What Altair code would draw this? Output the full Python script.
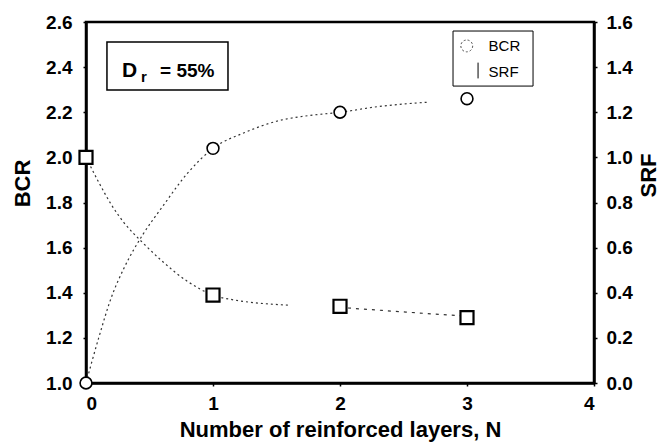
import altair as alt
import pandas as pd

# Measured points
layers_n = [0, 1, 2, 3]
bcr_vals = [1.0, 2.04, 2.20, 2.26]
srf_vals = [1.0, 0.39, 0.34, 0.29]

# Fitted trend curves
bcr_fit_n = [0, 0.1, 0.2, 0.3, 0.45, 0.6, 0.8, 1.0, 1.25, 1.5, 1.75, 2.0, 2.3, 2.7]
bcr_fit = [1.0, 1.20, 1.38, 1.51, 1.66, 1.78, 1.93, 2.04, 2.11, 2.16, 2.185, 2.20, 2.225, 2.245]
srf_fit_n = [0, 0.1, 0.2, 0.3, 0.45, 0.6, 0.8, 1.0, 1.2, 1.4, 1.6]
srf_fit = [1.0, 0.89, 0.79, 0.71, 0.62, 0.54, 0.45, 0.39, 0.365, 0.352, 0.345]
srf_fit2_n = [2.0, 2.5, 2.95]
srf_fit2 = [0.335, 0.315, 0.298]

FONT = "Liberation Sans"
pts = pd.DataFrame({"N": layers_n, "BCR": bcr_vals, "SRF": srf_vals})
bcr_curve_df = pd.DataFrame({"N": bcr_fit_n, "BCR": bcr_fit})
srf_curve_df = pd.DataFrame({"N": srf_fit_n, "SRF": srf_fit})
srf_curve2_df = pd.DataFrame({"N": srf_fit2_n, "SRF": srf_fit2})

common = dict(
    labelFont=FONT, labelFontSize=19, labelFontWeight="bold", labelColor="black",
    titleFont=FONT, titleFontSize=22, titleFontWeight="bold", titleColor="black",
    tickSize=3, tickColor="black", tickWidth=1.5,
    domainColor="black", domainWidth=2.5, grid=False, labelOverlap=False, labelBound=False,
)
x_axis = alt.Axis(
    values=[0, 1, 2, 3, 4], format="d", title="Number of reinforced layers, N",
    labelPadding=8, titlePadding=6, **common,
)
x_scale = alt.Scale(domain=[0, 4], nice=False)
bcr_scale = alt.Scale(domain=[1.0, 2.6], nice=False, zero=False)
srf_scale = alt.Scale(domain=[0.0, 1.6], nice=False, zero=False)

bcr_axis = alt.Axis(
    values=[1.0, 1.2, 1.4, 1.6, 1.8, 2.0, 2.2, 2.4, 2.6], format=".1f", title="BCR",
    labelPadding=11, titleAngle=270, titleX=-64, titleY=161, titleAlign="center",
    titleBaseline="middle", **common,
)
srf_axis = alt.Axis(
    orient="right",
    values=[0.0, 0.2, 0.4, 0.6, 0.8, 1.0, 1.2, 1.4, 1.6], format=".1f", title="SRF",
    labelPadding=9, titleAngle=270, titleX=54, titleY=153, titleAlign="center",
    titleBaseline="middle", **common,
)


def xq(field):
    return alt.X(field, scale=x_scale, axis=x_axis)


def yb(field):
    return alt.Y(field, scale=bcr_scale, axis=bcr_axis)


def ys(field):
    return alt.Y(field, scale=srf_scale, axis=srf_axis)


dash = [2, 3]

bcr_curve = alt.Chart(bcr_curve_df).mark_line(
    color="#333", strokeWidth=1.2, strokeDash=dash, interpolate="monotone"
).encode(x=xq("N:Q"), y=yb("BCR:Q"))

bcr_points = alt.Chart(pts).mark_point(
    shape="circle", size=140, filled=False, fill="white", fillOpacity=1, color="black", strokeWidth=1.6
).encode(x=xq("N:Q"), y=yb("BCR:Q"))

# Annotation box with relative density label (placed in data units)
box_df = pd.DataFrame({"N": [0.165], "N2": [1.118], "BCR": [2.299], "BCR2": [2.511]})
dr_box = alt.Chart(box_df).mark_rect(fill="white", stroke="black", strokeWidth=1.5).encode(
    x=xq("N:Q"), x2="N2:Q", y=yb("BCR:Q"), y2="BCR2:Q"
)
text_df = pd.DataFrame({
    "N": [0.283, 0.433, 0.583],
    "BCR": [2.356, 2.334, 2.356],
    "t": ["D", "r", "=  55%"],
    "s": [21, 15, 19],
})
dr_text = alt.Chart(text_df).mark_text(
    font=FONT, fontWeight="bold", align="left", baseline="alphabetic", color="black"
).encode(
    x=xq("N:Q"), y=yb("BCR:Q"), text="t:N",
    size=alt.Size("s:Q", scale=None, legend=None),
)

# Legend
leg_box_df = pd.DataFrame({"N": [2.89], "N2": [3.52], "BCR": [2.316], "BCR2": [2.56]})
leg_box = alt.Chart(leg_box_df).mark_rect(fill="white", stroke="black", strokeWidth=1).encode(
    x=xq("N:Q"), x2="N2:Q", y=yb("BCR:Q"), y2="BCR2:Q"
)
leg_sym_df = pd.DataFrame({"N": [2.998], "BCR": [2.494]})
leg_sym = alt.Chart(leg_sym_df).mark_point(
    shape="circle", size=140, filled=False, color="black", strokeWidth=1, strokeDash=[2, 2]
).encode(x=xq("N:Q"), y=yb("BCR:Q"))
leg_tick_df = pd.DataFrame({"N": [3.087], "BCR": [2.35], "BCR2": [2.42]})
leg_tick = alt.Chart(leg_tick_df).mark_rule(color="black", strokeWidth=1).encode(
    x=xq("N:Q"), y=yb("BCR:Q"), y2="BCR2:Q"
)
leg_text_df = pd.DataFrame({"N": [3.17, 3.17], "BCR": [2.494, 2.379], "t": ["BCR", "SRF"]})
leg_text = alt.Chart(leg_text_df).mark_text(
    font=FONT, fontSize=15, align="left", baseline="middle", color="black"
).encode(x=xq("N:Q"), y=yb("BCR:Q"), text="t:N")

bcr_layer = alt.layer(bcr_curve, dr_box, dr_text, leg_box, leg_sym, leg_tick, leg_text, bcr_points)

srf_c1 = alt.Chart(srf_curve_df).mark_line(
    color="#333", strokeWidth=1.2, strokeDash=dash, interpolate="monotone"
).encode(x=xq("N:Q"), y=ys("SRF:Q"))
srf_c2 = alt.Chart(srf_curve2_df).mark_line(
    color="#333", strokeWidth=1.2, strokeDash=[3, 5], interpolate="monotone"
).encode(x=xq("N:Q"), y=ys("SRF:Q"))
srf_points = alt.Chart(pts).mark_point(
    shape="square", size=170, filled=False, fill="white", fillOpacity=1, color="black", strokeWidth=2.2
).encode(x=xq("N:Q"), y=ys("SRF:Q"))
srf_layer = alt.layer(srf_c1, srf_c2, srf_points)

chart = alt.layer(bcr_layer, srf_layer).resolve_scale(y="independent").properties(
    width=508, height=361,
    autosize=alt.AutoSizeParams(type="none"),
    padding={"left": 86, "top": 22, "right": 71, "bottom": 63},
    background="white",
).configure_view(stroke="black", strokeWidth=2.5)

chart.save("out.html", embed_options={"renderer": "svg", "actions": False})
